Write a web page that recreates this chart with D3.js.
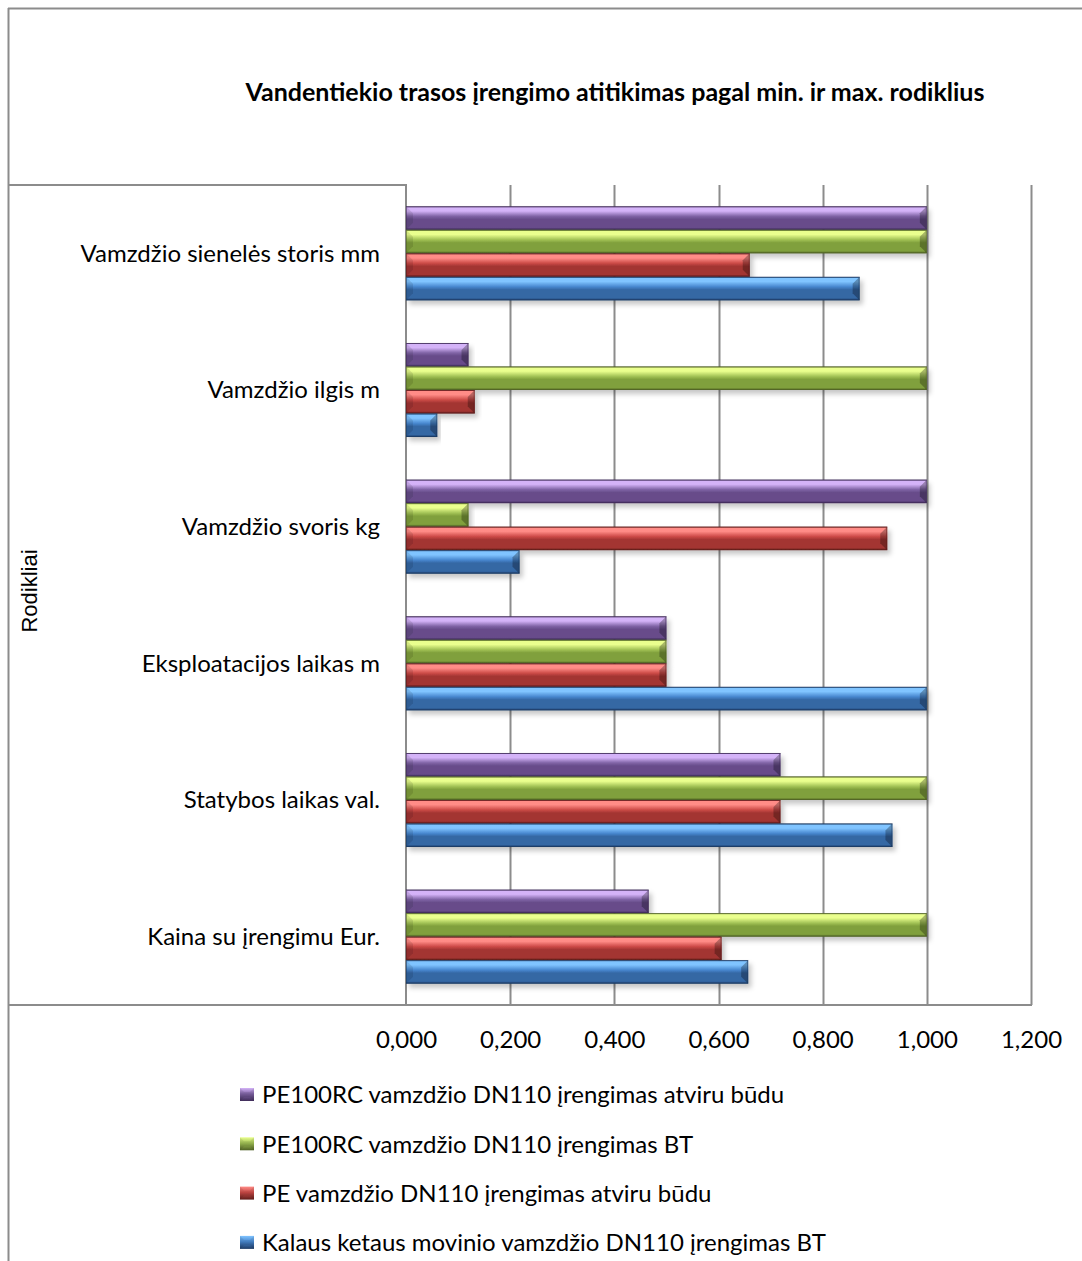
<!DOCTYPE html>
<html>
<head>
<meta charset="utf-8">
<script src="https://cdn.jsdelivr.net/npm/d3@7"></script>
<style>
  html, body { margin: 0; padding: 0; background: #ffffff; }
  svg { display: block; }
</style>
</head>
<body>
<script>
// ---------------- DATA ----------------
const title = "Vandentiekio trasos įrengimo atitikimas pagal min. ir max. rodiklius";
const axisTitle = "Rodikliai";
// categories, top to bottom as drawn
const categories = [
  "Vamzdžio sienelės storis mm",
  "Vamzdžio ilgis m",
  "Vamzdžio svoris kg",
  "Eksploatacijos laikas m",
  "Statybos laikas val.",
  "Kaina su įrengimu Eur."
];
// series (legend order, top to bottom)
const seriesNames = [
  "PE100RC vamzdžio DN110 įrengimas atviru būdu",
  "PE100RC vamzdžio DN110 įrengimas BT",
  "PE vamzdžio DN110 įrengimas atviru būdu",
  "Kalaus ketaus movinio vamzdžio DN110 įrengimas BT"
];
// values per series, in the category order above
const purpleValues = [1.000, 0.120, 1.000, 0.500, 0.719, 0.466];
const greenValues  = [1.000, 1.000, 0.120, 0.500, 1.000, 1.000];
const redValues    = [0.660, 0.132, 0.924, 0.500, 0.719, 0.606];
const blueValues   = [0.871, 0.060, 0.218, 1.000, 0.934, 0.657];
const seriesValues = [purpleValues, greenValues, redValues, blueValues];
const tickValues = [0, 0.2, 0.4, 0.6, 0.8, 1.0, 1.2];

// ---------------- STYLE ----------------
const palettes = [
  { edge: "#3f2c58", light: "#d4b3f8", mid: "#8064a6", low: "#674c8a" },
  { edge: "#4e6024", light: "#eaff8e", mid: "#a2c255", low: "#80a03c" },
  { edge: "#5e1d1b", light: "#ff8c87", mid: "#cc4a47", low: "#a33533" },
  { edge: "#1d3a63", light: "#80c4ff", mid: "#4887cf", low: "#3467a4" }
];
const W = 1082, H = 1261;
const plot = { left: 406, right: 1031, top: 185, bottom: 1005 };
const labelFont = "Lato, 'Open Sans', sans-serif";
const labelSize = 24;
const lineColor = "#8c8c8c";

const svg = d3.select("body").append("svg")
  .attr("width", W).attr("height", H);

const defs = svg.append("defs");
palettes.forEach((p, i) => {
  const g = defs.append("linearGradient").attr("id", "grad" + i)
    .attr("x1", 0).attr("y1", 0).attr("x2", 0).attr("y2", 1);
  [[0, p.edge], [0.06, p.light], [0.2, p.light], [0.42, p.mid], [0.55, p.low], [0.9, p.low], [1, p.edge]]
    .forEach(([o, c]) => g.append("stop").attr("offset", o).attr("stop-color", c));
  const lg = defs.append("linearGradient").attr("id", "lgrad" + i)
    .attr("x1", 0).attr("y1", 0).attr("x2", 0).attr("y2", 1);
  [[0, p.light], [0.45, p.mid], [1, p.edge]]
    .forEach(([o, c]) => lg.append("stop").attr("offset", o).attr("stop-color", c));
});
const filt = defs.append("filter").attr("id", "shadow")
  .attr("x", "-5%").attr("y", "-30%").attr("width", "115%").attr("height", "180%");
filt.append("feDropShadow").attr("dx", 3).attr("dy", 4).attr("stdDeviation", 2.5)
  .attr("flood-color", "#000").attr("flood-opacity", 0.22);

// ---------------- FRAME ----------------
svg.append("line").attr("x1", 8).attr("x2", W).attr("y1", 8.5).attr("y2", 8.5)
  .attr("stroke", lineColor).attr("stroke-width", 2);
svg.append("line").attr("x1", 8.5).attr("x2", 8.5).attr("y1", 8).attr("y2", H)
  .attr("stroke", lineColor).attr("stroke-width", 2);

// title
svg.append("text").attr("x", 615).attr("y", 101)
  .attr("text-anchor", "middle")
  .attr("font-family", labelFont).attr("font-weight", "bold").attr("font-size", 25)
  .attr("fill", "#000").text(title);

// ---------------- SCALES ----------------
const x = d3.scaleLinear().domain([0, 1.2]).range([plot.left, plot.right]);
const y = d3.scaleBand().domain(categories).range([plot.top, plot.bottom])
  .paddingInner(0.312).paddingOuter(0.156);
const ys = d3.scaleBand().domain(d3.range(seriesNames.length)).range([0, y.bandwidth()]);

// gridlines
svg.append("g").selectAll("line").data(tickValues.slice(1)).join("line")
  .attr("x1", d => Math.round(x(d)) + 0.5).attr("x2", d => Math.round(x(d)) + 0.5)
  .attr("y1", plot.top).attr("y2", plot.bottom)
  .attr("stroke", lineColor).attr("stroke-width", 2);

// category table lines
svg.append("line").attr("x1", 8).attr("x2", plot.left).attr("y1", plot.top).attr("y2", plot.top)
  .attr("stroke", lineColor).attr("stroke-width", 2);
svg.append("line").attr("x1", 8).attr("x2", plot.right + 1).attr("y1", plot.bottom).attr("y2", plot.bottom)
  .attr("stroke", lineColor).attr("stroke-width", 2);
svg.append("line").attr("x1", plot.left).attr("x2", plot.left).attr("y1", plot.top - 1).attr("y2", plot.bottom)
  .attr("stroke", lineColor).attr("stroke-width", 2);

// ---------------- BARS ----------------
const barData = [];
categories.forEach((c, ci) => {
  seriesValues.forEach((vals, si) => barData.push({ c, si, v: vals[ci] }));
});
const bevel = 7;
const bars = svg.append("g").selectAll("g").data(barData).join("g")
  .attr("filter", "url(#shadow)");
bars.append("rect")
  .attr("x", x(0)).attr("y", d => y(d.c) + ys(d.si))
  .attr("width", d => x(d.v) - x(0)).attr("height", ys.bandwidth())
  .attr("fill", d => "url(#grad" + d.si + ")");
// left bevel facet
bars.append("path").attr("d", d => {
  const x0 = x(0), y0 = y(d.c) + ys(d.si), y1 = y0 + ys.bandwidth();
  const b = Math.min(bevel, (x(d.v) - x0) / 2);
  return `M${x0},${y0}L${x0 + b},${y0 + b}L${x0 + b},${y1 - b}L${x0},${y1}Z`;
}).attr("fill", "#000").attr("opacity", 0.1);
// right bevel facet
bars.append("path").attr("d", d => {
  const x1 = x(d.v), y0 = y(d.c) + ys(d.si), y1 = y0 + ys.bandwidth();
  const b = Math.min(bevel, (x1 - x(0)) / 2);
  return `M${x1},${y0}L${x1 - b},${y0 + b}L${x1 - b},${y1 - b}L${x1},${y1}Z`;
}).attr("fill", "#000").attr("opacity", 0.28);
// outline
bars.append("rect")
  .attr("x", x(0) + 0.5).attr("y", d => y(d.c) + ys(d.si) + 0.5)
  .attr("width", d => x(d.v) - x(0) - 1).attr("height", ys.bandwidth() - 1)
  .attr("fill", "none").attr("stroke", d => palettes[d.si].edge).attr("stroke-opacity", 0.6);

// ---------------- AXES ----------------
const yAxis = d3.axisLeft(y).tickSize(0).tickPadding(0);
const gy = svg.append("g").attr("transform", "translate(380,0)").call(yAxis);
gy.select(".domain").remove();
gy.selectAll("text").attr("font-family", labelFont).attr("font-size", labelSize)
  .attr("fill", "#000").attr("dy", "0.35em");

const xAxis = d3.axisBottom(x).tickValues(tickValues).tickSize(0).tickPadding(0)
  .tickFormat(d => d3.format(".3f")(d).replace(".", ","));
const gx = svg.append("g").attr("transform", "translate(0,1040)").call(xAxis);
gx.select(".domain").remove();
gx.selectAll("text").attr("font-family", labelFont).attr("font-size", labelSize)
  .attr("fill", "#000").attr("dy", "0.35em");

// axis title
svg.append("text").attr("transform", "translate(37,591) rotate(-90)")
  .attr("text-anchor", "middle")
  .attr("font-family", "'Liberation Sans', Arial, sans-serif").attr("font-size", 22)
  .attr("fill", "#000").text(axisTitle);

// ---------------- LEGEND ----------------
const legend = svg.append("g").selectAll("g").data(seriesNames).join("g")
  .attr("transform", (d, i) => `translate(240,${1095 + i * 49.3})`);
legend.append("rect").attr("x", 0).attr("y", -7).attr("width", 14).attr("height", 13)
  .attr("fill", (d, i) => "url(#lgrad" + i + ")");
legend.append("path").attr("d", "M0,-7L4,-3L10,-3L14,-7L14,6L10,2L4,2L0,6Z")
  .attr("fill", "#000").attr("opacity", 0.08);
legend.append("text").attr("x", 22).attr("y", 0).attr("dy", "0.35em")
  .attr("font-family", labelFont).attr("font-size", labelSize).attr("fill", "#000")
  .text(d => d);
</script>
</body>
</html>
